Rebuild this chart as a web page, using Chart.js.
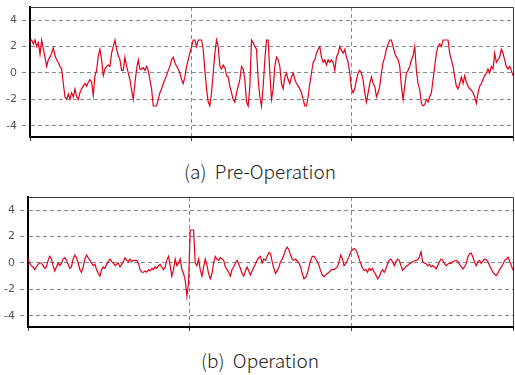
<!DOCTYPE html>
<html><head><meta charset="utf-8">
<script src="https://cdn.jsdelivr.net/npm/chart.js@4/dist/chart.umd.min.js"></script>
<style>
html,body{margin:0;padding:0;background:#fff;width:515px;height:375px;overflow:hidden;}
.wrap{position:absolute;left:0;width:515px;height:150px;}
.cap{position:absolute;left:0;width:520px;text-align:center;font-family:'Noto Sans CJK KR','Noto Sans',sans-serif;font-weight:300;font-size:19px;line-height:24px;color:#222;white-space:pre;}
</style></head><body>
<div class="wrap" style="top:0px"><canvas id="c1" width="515" height="150"></canvas></div>
<div class="cap" style="top:159px">(a)  Pre-Operation</div>
<div class="wrap" style="top:190px"><canvas id="c2" width="515" height="150"></canvas></div>
<div class="cap" style="top:348px">(b)  Operation</div>
<script>
// y tick labels and x grid positions (sample index)
const yTicks = [-4, -2, 0, 2, 4];
const xGrid = [0, 96.67, 193.33, 290];

// (a) Pre-Operation signal, uniform samples
const preOperation = [
 2.4,2.5,2.2,2.5,2.0,2.3,1.4,2.5,1.8,1.2,
 0.5,1.0,1.2,1.5,1.9,1.3,1.0,0.8,0.5,0.3,
 -0.8,-1.8,-2.0,-1.6,-2.0,-1.5,-1.8,-1.2,-1.8,-2.0,
 -1.5,-1.2,-1.0,-0.8,-1.0,-0.7,-0.5,-0.7,-1.7,-0.2,
 0.2,1.3,1.8,1.0,-0.2,0.3,0.5,0.6,0.5,1.5,
 2.0,2.5,1.8,1.3,1.0,0.2,0.2,1.2,0.5,0,
 -0.5,-1.3,-2.0,-0.8,0.3,1.0,0.3,0.3,0.4,0.2,
 0.5,0.2,-0.5,-1.2,-2.5,-2.5,-2.5,-2.0,-1.5,-1.2,
 -0.8,-0.5,-0.2,0.2,0.5,1.0,1.2,0.8,0.5,0.3,
 0,-0.5,-0.8,-0.3,0.5,1.0,1.5,2.0,2.5,2.5,
 2.0,2.5,2.5,2.5,1.8,0.2,-1.2,-2.2,-2.5,-1.5,
 0,1.5,2.5,2.0,0.5,0.3,0.6,0.4,-0.2,-0.3,
 -1.0,-1.5,-2.0,-2.2,-1.5,-1.0,-0.5,0.5,0.3,-0.5,
 -2.2,-2.5,-1.0,2.5,2.3,2.0,1.8,-0.5,-1.8,
 -2.5,-1.0,1.0,2.5,2.5,0.0,-2.0,-1.2,0.5,1.2,
 1.0,0.5,-0.8,-1.2,-0.3,0,-0.5,-0.8,-0.3,0,
 -0.5,-0.8,-1.0,-1.2,-1.5,-2.0,-2.5,-2.5,-1.8,-0.8,
 0,0.8,1.0,1.5,1.8,2.0,1.2,0.8,1.0,0.6,
 1.0,0.8,1.0,0.8,0.2,1.2,1.5,2.0,1.7,1.5,
 1.8,1.2,0.8,0,-1.2,-1.5,-1.2,-0.5,0,0.2,
 0,-0.5,-1.5,-2.2,-1.5,-0.8,-0.3,-0.8,-1.0,-1.8,
 -1.5,-1.0,0,0.8,1.2,1.8,2.2,2.5,2.5,2.0,
 1.5,1.2,1.0,0.5,-1.0,-2.0,-1.0,0,0.2,0.5,
 1.0,1.3,2.0,0.2,-0.8,-1.3,-2.3,-2.5,-2.4,-2.0,
 -2.2,-1.8,-1.5,-0.5,0.5,1.5,2.0,2.2,2.0,2.5,
 2.5,2.5,2.5,1.5,1.0,0.5,-0.3,-1.0,-1.2,-0.8,
 -0.3,-0.8,-0.2,-0.7,-1.0,-1.2,-1.3,-1.5,-1.8,-2.3,
 -1.5,-1.0,-0.8,-0.5,-0.2,0,0.3,0,0.5,0.3,
 1.5,0.8,1.0,1.2,1.8,1.5,1.0,0.5,0.3,0.5,
 0.2,-0.2
];

// (b) Operation signal, uniform samples
const operation = [
 0.3,0.0,-0.2,-0.3,-0.5,-0.3,-0.1,0.0,0.0,-0.2,
 -0.4,-0.3,0.2,0.5,0.3,-0.2,-0.6,-0.3,0.0,-0.2,
 0.0,0.3,0.4,0.2,-0.1,-0.4,-0.3,0.3,0.6,0.4,
 0.0,-0.5,-0.7,-0.3,0.3,0.6,0.4,0.2,0.0,-0.2,
 -0.1,-0.5,-0.8,-1.0,-0.5,-0.3,-0.4,-0.1,0.1,0.3,
 0.1,0.0,-0.2,-0.1,0.0,-0.3,-0.1,0.1,0.4,0.2,
 0.1,0.3,0.1,0.2,0.2,0.2,0.0,-0.5,-0.7,-0.7,
 -0.6,-0.7,-0.5,-0.6,-0.4,-0.5,-0.3,-0.4,-0.2,-0.1,
 -0.3,-0.5,-0.3,0.2,0.5,-0.2,-1.0,-0.5,0.3,-0.2,
 0.0,0.3,-0.5,-0.8,-1.3,-2.5,-1.5,2.5,2.5,2.5,
 0.0,-0.2,0.3,-0.5,-1.0,-0.3,0.3,-0.2,-0.8,-1.2,
 -0.8,0.0,0.5,0.3,0.2,0.4,0.3,0.2,-0.3,-0.5,
 -0.7,-1.0,-0.5,-0.3,0.0,0.2,-0.1,-0.4,-0.8,-1.0,
 -0.6,-0.3,-0.6,-0.9,-0.6,-0.3,-0.1,0.2,0.4,0.5,
 0.0,0.3,0.2,0.5,0.8,0.7,0.1,-0.4,-0.8,-0.6,
 -0.3,0.1,0.3,0.6,1.0,1.2,1.0,0.6,0.3,0.2,
 0.3,0.15,0.0,-0.3,-0.8,-1.2,-1.1,-0.8,-0.3,0.2,
 0.5,0.5,0.3,0.1,-0.2,-0.6,-0.9,-1.05,-0.9,-0.8,
 -0.7,-0.55,-0.5,-0.5,-0.4,-0.3,0.1,0.6,0.3,-0.2,
 -0.05,0.2,0.5,0.85,1.0,1.1,1.0,0.7,0.3,-0.05,
 -0.4,-0.55,-0.5,-0.7,-0.4,-0.55,-0.4,-0.7,-0.9,-1.2,
 -1.05,-0.7,-0.5,-0.7,-0.45,-0.05,0.2,0.3,0.1,-0.2,
 0.1,0.3,0.2,-0.2,-0.55,-0.4,-0.25,-0.2,-0.05,0.0,
 0.1,0.15,0.2,0.25,0.45,0.85,0.1,0.0,-0.05,-0.2,
 -0.1,-0.3,-0.2,-0.3,-0.45,-0.2,0.1,0.3,0.2,-0.05,
 -0.2,-0.1,0.0,-0.05,0.1,0.15,0.2,0.1,-0.1,-0.25,
 -0.45,-0.3,-0.05,0.45,0.7,0.75,0.45,0.1,-0.2,0.1,
 0.2,-0.05,0.15,0.3,0.25,0.1,-0.2,-0.45,-0.7,-0.85,
 -0.95,-0.75,-0.5,-0.3,-0.1,0.2,0.3,0.45,0.15,-0.2,
 -0.55
];

const frame = {
  id: 'frame',
  afterDraw(c) {
    const {ctx, chartArea: a} = c;
    ctx.save();
    ctx.strokeStyle = '#3a3a3a';
    ctx.lineWidth = 1;
    ctx.beginPath();
    ctx.moveTo(a.left, Math.round(a.top) + 0.5);
    ctx.lineTo(Math.round(a.right) + 0.5, Math.round(a.top) + 0.5);
    ctx.lineTo(Math.round(a.right) + 0.5, a.bottom);
    ctx.stroke();
    ctx.restore();
  }
};

function makeChart(id, values, left, top, bottom, right) {
  const gridGray = '#8a8a8a';
  return new Chart(document.getElementById(id), {
    type: 'line',
    data: {
      datasets: [{
        data: values.map((v, i) => ({x: i, y: v})),
        borderColor: '#e3001b',
        borderWidth: 1.2,
        pointRadius: 0,
        tension: 0,
        fill: false
      }]
    },
    options: {
      responsive: false,
      animation: false,
      devicePixelRatio: 1,
      layout: {padding: {left: 0, top: top, right: 515 - right, bottom: 0}},
      plugins: {legend: {display: false}, tooltip: {enabled: false}},
      scales: {
        x: {
          type: 'linear',
          min: 0, max: 290,
          afterBuildTicks: s => { s.ticks = xGrid.map(v => ({value: v})); },
          afterFit: s => { s.height = 150 - bottom; s.paddingLeft = 0; s.paddingRight = 0; },
          ticks: {display: false},
          grid: {
            color: c => (c.index === 0 || c.index === xGrid.length - 1) ? 'rgba(0,0,0,0)' : gridGray,
            lineWidth: 1,
            drawTicks: true,
            tickLength: 4,
            tickColor: '#444',
            tickWidth: 1,
            tickBorderDash: []
          },
          border: {display: true, color: '#000', width: 2, dash: [4, 3]}
        },
        y: {
          min: -4.85, max: 5,
          afterBuildTicks: s => { s.ticks = yTicks.map(v => ({value: v})); },
          afterFit: s => { s.width = left; s.paddingTop = 0; s.paddingBottom = 0; },
          ticks: {
            padding: 5,
            color: '#555',
            font: {family: 'DejaVu Sans', size: 11},
            callback: v => String(v)
          },
          grid: {
            color: gridGray,
            lineWidth: 1,
            drawTicks: true,
            tickLength: 8,
            tickColor: gridGray,
            tickBorderDash: [4, 3]
          },
          border: {display: true, color: '#000', width: 2, dash: [4, 3]}
        }
      }
    },
    plugins: [frame]
  });
}

makeChart('c1', preOperation, 30, 7, 137, 513);
makeChart('c2', operation, 28, 7, 137, 513);
</script>
</body></html>
